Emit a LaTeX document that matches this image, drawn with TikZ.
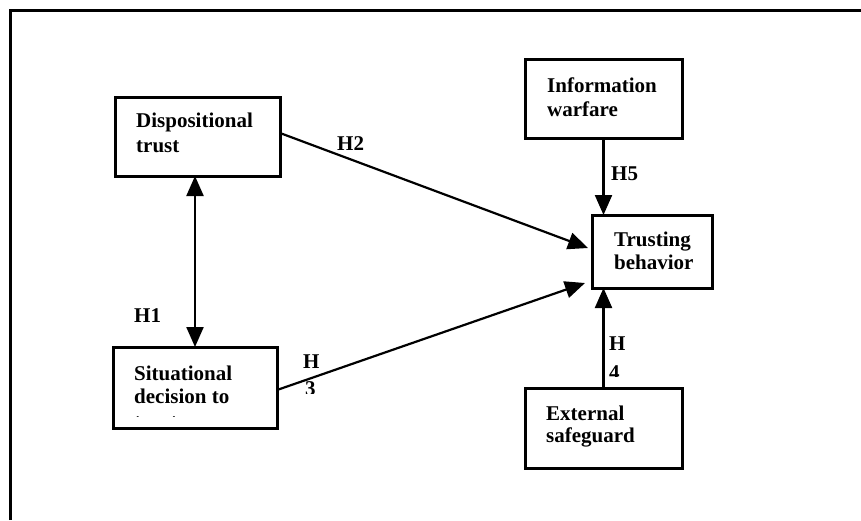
\documentclass[tikz,border=0pt]{standalone}
\usepackage{fontspec}
\setmainfont{Liberation Serif}
\usetikzlibrary{arrows.meta}
\begin{document}
\begin{tikzpicture}[x=1pt,y=-1pt,
  box/.style={draw,line width=3pt,inner sep=0pt,outer sep=0pt},
  txt/.style={anchor=base west,inner sep=0pt,font=\fontsize{21}{24}\selectfont\bfseries},
  tip/.style={Triangle[length=20pt,width=17pt]},
  conn/.style={line width=2.2pt,-{Triangle[length=20pt,width=17pt]}},
  dconn/.style={line width=2.2pt,{Triangle[length=20pt,width=17pt]}-{Triangle[length=20pt,width=17pt]}}]
\useasboundingbox (0,0) rectangle (861,520);
% outer frame
\coordinate (f1) at (10,520);
\coordinate (f2) at (10,10);
\coordinate (f3) at (861,10);
\draw[line width=3pt] (f1) -- (f2) -- (f3);
% boxes
\node[box,minimum width=165pt,minimum height=79pt] (D) at (197.5,136.5) {};
\node[box,minimum width=164pt,minimum height=81pt] (S) at (195,387.5) {};
\node[box,minimum width=157pt,minimum height=79pt] (I) at (603.5,98.5) {};
\node[box,minimum width=120pt,minimum height=73pt] (T) at (652,251.5) {};
\node[box,minimum width=157pt,minimum height=80pt] (E) at (603.5,428) {};
% texts
\node[txt] (d1) at (136,127) {Dispositional};
\node[txt] (d2) at (136,152) {trust};
\node[txt] (s1) at (134,380) {Situational};
\node[txt] (s2) at (134,403) {decision to};
\begin{scope}
\clip (0,0) rectangle (861,416.5);
\node[txt] (s3) at (134,428) {trust};
\end{scope}
\node[txt] (i1) at (547,92) {Information};
\node[txt] (i2) at (547,116) {warfare};
\node[txt] (t1) at (614,246) {Trusting};
\node[txt] (t2) at (614,269) {behavior};
\node[txt] (e1) at (546,420) {External};
\node[txt] (e2) at (546,442) {safeguard};
% connectors
\draw[dconn] (S.north) -- (S.north |- D.south);
\draw[conn] ([yshift=3.5pt]D.east) -- ([xshift=-4pt,yshift=3.5pt]T.west);
\draw[conn] ([yshift=-2.5pt]S.east) -- ([xshift=-7pt,yshift=5pt]T.south west);
\draw[conn] (E.north) -- (E.north |- T.south);
\draw[conn] (I.south) -- (I.south |- T.north);
% hypothesis labels
\node[txt] (h1) at (134,322) {H1};
\node[txt] (h2) at (337,150) {H2};
\node[txt] (h5) at (611,180) {H5};
\node[txt] (h3a) at (303,368) {H};
\begin{scope}
\clip (0,0) rectangle (861,393);
\node[txt] (h3b) at (305,395) {3};
\end{scope}
\node[txt] (h4a) at (609,350) {H};
\begin{scope}
\clip (0,0) rectangle (861,376);
\node[txt] (h4b) at (609,379) {4};
\end{scope}
\end{tikzpicture}
\end{document}
